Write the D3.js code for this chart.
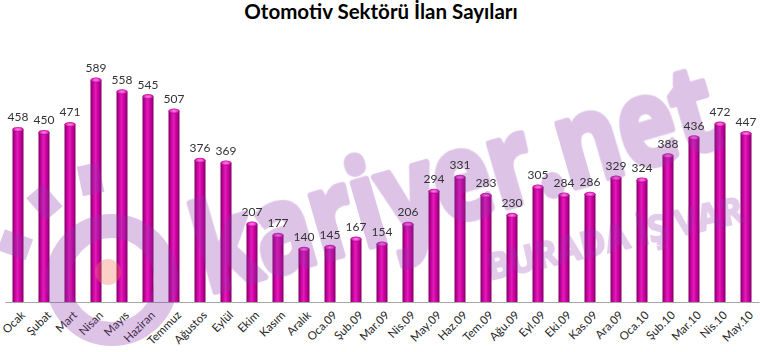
<!DOCTYPE html>
<html>
<head>
<meta charset="utf-8">
<script src="https://cdn.jsdelivr.net/npm/d3@7"></script>
<style>
  body { margin: 0; background: #fff; }
  svg { display: block; }
</style>
</head>
<body>
<svg id="chart" width="760" height="352"></svg>
<script>
// data
const categories = ["Ocak", "Şubat", "Mart", "Nisan", "Mayıs", "Haziran", "Temmuz", "Ağustos", "Eylül", "Ekim",
  "Kasım", "Aralık", "Oca.09", "Şub.09", "Mar.09", "Nis.09", "May.09", "Haz.09", "Tem.09", "Ağu.09",
  "Eyl.09", "Eki.09", "Kas.09", "Ara.09", "Oca.10", "Şub.10", "Mar.10", "Nis.10", "May.10"];
const values = [458, 450, 471, 589, 558, 545, 507, 376, 369, 207,
  177, 140, 145, 167, 154, 206, 294, 331, 283, 230,
  305, 284, 286, 329, 324, 388, 436, 472, 447];
const title = "Otomotiv Sektörü İlan Sayıları";

const svg = d3.select("#chart");
const width = 760;
const baseY = 302;
const barW = 11;

const data = categories.map((c, i) => ({ cat: c, val: values[i] }));

const x = d3.scaleBand().domain(categories).range([5, 759]);
const y = d3.scaleLinear().domain([0, d3.max(values)]).range([baseY, 80]);

// gradients for the cylinder look
const defs = svg.append("defs");
const grad = defs.append("linearGradient").attr("id", "barGrad")
  .attr("x1", "0%").attr("x2", "100%").attr("y1", "0%").attr("y2", "0%");
[["0%", "#7d0063"], ["22%", "#c4009c"], ["45%", "#e21cb8"], ["70%", "#cc00a2"], ["100%", "#800066"]]
  .forEach(s => grad.append("stop").attr("offset", s[0]).attr("stop-color", s[1]));
const capGrad = defs.append("radialGradient").attr("id", "capGrad");
[["0%", "#ff8ae6"], ["60%", "#ea3cc6"], ["100%", "#b0008a"]]
  .forEach(s => capGrad.append("stop").attr("offset", s[0]).attr("stop-color", s[1]));

// title
svg.append("text")
  .attr("x", width / 2 + 1)
  .attr("y", 19)
  .attr("text-anchor", "middle")
  .style("font-family", "Lato, 'Open Sans', sans-serif")
  .style("font-weight", "bold")
  .style("font-size", "20.5px")
  .style("fill", "#000")
  .text(title);

// x axis with rotated labels
const xAxis = d3.axisBottom(x).tickSize(0).tickSizeOuter(0);
const axisG = svg.append("g")
  .attr("transform", `translate(0, ${baseY})`)
  .call(xAxis);
axisG.select(".domain").attr("stroke", "#a6a6a6").attr("stroke-width", 1.2);
axisG.selectAll("text")
  .attr("y", 0)
  .attr("x", 0)
  .attr("dy", "0.35em")
  .attr("text-anchor", "end")
  .attr("transform", "translate(5,11) rotate(-45)")
  .style("font-family", "Lato, 'Open Sans', sans-serif")
  .style("font-size", "11.5px")
  .style("fill", "#262626");

// bars
const bars = svg.append("g");
bars.selectAll(".bar")
  .data(data)
  .join("rect")
  .attr("class", "bar")
  .attr("x", d => x(d.cat) + x.bandwidth() / 2 - barW / 2)
  .attr("y", d => y(d.val))
  .attr("width", barW)
  .attr("height", d => baseY - y(d.val))
  .attr("fill", "url(#barGrad)");

bars.selectAll(".cap")
  .data(data)
  .join("ellipse")
  .attr("class", "cap")
  .attr("cx", d => x(d.cat) + x.bandwidth() / 2)
  .attr("cy", d => y(d.val))
  .attr("rx", barW / 2)
  .attr("ry", 2.5)
  .attr("fill", "url(#capGrad)");

// watermark (kariyer.net logo), drawn over the bars, semi transparent
const wmColor = "rgb(142,58,172)";
const wm = svg.append("g").style("pointer-events", "none");
const logo = wm.append("g").attr("opacity", 0.3);
const lc = [112, 280];
logo.append("circle")
  .attr("cx", lc[0]).attr("cy", lc[1]).attr("r", 54)
  .attr("fill", "none").attr("stroke", wmColor).attr("stroke-width", 24);
[-160, -131, -102].forEach(a => {
  logo.append("rect")
    .attr("x", -15).attr("y", -11)
    .attr("width", 30).attr("height", 22)
    .attr("fill", wmColor)
    .attr("transform", `translate(${lc[0]},${lc[1]}) rotate(${a}) translate(103,0)`);
});
logo.append("text")
  .attr("transform", "translate(208,294) rotate(-16.2)")
  .attr("textLength", 538)
  .attr("lengthAdjust", "spacingAndGlyphs")
  .style("font-family", "'Open Sans', sans-serif")
  .style("font-weight", "bold")
  .style("font-size", "120px")
  .style("fill", wmColor)
  .style("stroke", wmColor)
  .style("stroke-width", "7px")
  .style("stroke-linejoin", "round")
  .text("kariyer.net");

wm.append("circle")
  .attr("cx", 108).attr("cy", 272).attr("r", 13)
  .attr("fill", "rgb(245,120,95)").attr("opacity", 0.35);

wm.append("text")
  .attr("transform", "translate(490,280) rotate(-13)")
  .attr("textLength", 262)
  .attr("lengthAdjust", "spacingAndGlyphs")
  .style("font-family", "'Open Sans', sans-serif")
  .style("font-weight", "bold")
  .style("font-size", "36px")
  .style("fill", wmColor)
  .style("stroke", wmColor)
  .style("stroke-width", "2px")
  .attr("opacity", 0.26)
  .text("BURADA İŞ VAR");

// value labels
svg.append("g").selectAll(".val")
  .data(data)
  .join("text")
  .attr("class", "val")
  .attr("x", d => x(d.cat) + x.bandwidth() / 2)
  .attr("y", d => y(d.val) - 8)
  .attr("text-anchor", "middle")
  .style("font-family", "Lato, 'Open Sans', sans-serif")
  .style("font-size", "12px")
  .style("fill", "#333")
  .text(d => d.val);
</script>
</body>
</html>
